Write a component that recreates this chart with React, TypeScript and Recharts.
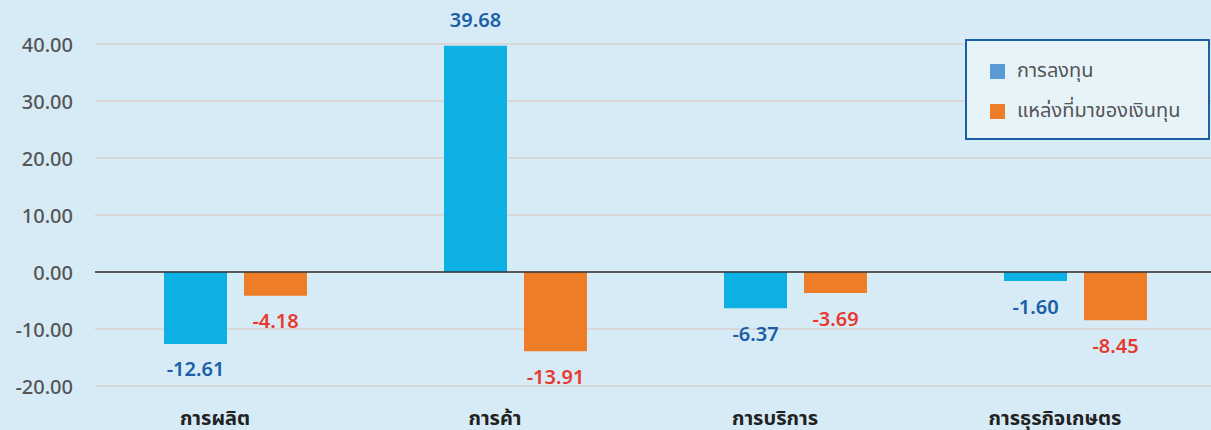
import React from "react";
import {
  BarChart,
  Bar,
  XAxis,
  YAxis,
  CartesianGrid,
  ReferenceLine,
  LabelList,
} from "recharts";

const categories = ["การผลิต", "การค้า", "การบริการ", "การธุรกิจเกษตร"];
const investment = [-12.61, 39.68, -6.37, -1.6];
const fundingSource = [-4.18, -13.91, -3.69, -8.45];
const seriesNames = ["การลงทุน", "แหล่งที่มาของเงินทุน"];
const yTicks = [-20, -10, 0, 10, 20, 30, 40];

const data = categories.map((c, i) => ({
  name: c,
  inv: investment[i],
  src: fundingSource[i],
}));

const FONT = "'Noto Sans', 'Noto Sans Thai', sans-serif";

const makeLabel = (color: string) => (props: any) => {
  const { x, y, width, height, value } = props;
  const y1 = Number(y);
  const y2 = Number(y) + Number(height);
  const top = Math.min(y1, y2);
  const bottom = Math.max(y1, y2);
  const cx = Number(x) + Number(width) / 2;
  const ty = value >= 0 ? top - 26 : bottom + 25;
  return (
    <text
      x={cx}
      y={ty}
      textAnchor="middle"
      dominantBaseline="central"
      fill={color}
      fontSize={20}
      fontWeight={600}
      fontFamily={FONT}
    >
      {Number(value).toFixed(2)}
    </text>
  );
};

const XTick = (props: any) => {
  const { x, y, payload } = props;
  return (
    <text
      x={x - 20}
      y={y + 23}
      textAnchor="middle"
      dominantBaseline="central"
      fill="#222"
      fontSize={20}
      fontWeight={700}
      fontFamily={FONT}
    >
      {payload.value}
    </text>
  );
};

const YTick = (props: any) => {
  const { y, payload } = props;
  return (
    <text
      x={73}
      y={y}
      textAnchor="end"
      dominantBaseline="central"
      fill="#555"
      fontSize={20}
      fontWeight={500}
      fontFamily={FONT}
    >
      {Number(payload.value).toFixed(2)}
    </text>
  );
};

const legendColors = ["#5b9bd5", "#ee7d27"];

const LegendBox = () => (
  <div
    style={{
      position: "absolute",
      left: 965,
      top: 39,
      width: 245,
      height: 101,
      boxSizing: "border-box",
      border: "2px solid #1a5ea8",
      background: "#e6f3f9",
      paddingLeft: 23,
      paddingTop: 10,
      fontFamily: FONT,
    }}
  >
    {seriesNames.map((n, i) => (
      <div
        key={n}
        style={{
          display: "flex",
          alignItems: "center",
          height: 40,
        }}
      >
        <div
          style={{
            width: 15,
            height: 15,
            background: legendColors[i],
            marginRight: 12,
          }}
        />
        <span style={{ fontSize: 20, color: "#555" }}>{n}</span>
      </div>
    ))}
  </div>
);

export default function App() {
  return (
    <div
      style={{
        position: "absolute",
        left: 0,
        top: 0,
        width: 1211,
        height: 430,
        overflow: "hidden",
        background: "#d6ebf6",
      }}
    >
      <BarChart
        width={1216}
        height={430}
        data={data}
        margin={{ top: 44, right: 1, left: 0, bottom: 0 }}
        barGap={17}
        barSize={63}
      >
        <CartesianGrid vertical={false} stroke="#d8d8d8" strokeWidth={2} />
        <XAxis
          dataKey="name"
          axisLine={false}
          tickLine={false}
          height={44}
          tick={<XTick />}
          interval={0}
        />
        <YAxis
          width={95}
          domain={[-20, 40]}
          ticks={yTicks}
          axisLine={false}
          tickLine={false}
          tick={<YTick />}
          interval={0}
        />
        <ReferenceLine y={0} stroke="#333" strokeWidth={1.5} />
        <Bar dataKey="inv" name={seriesNames[0]} fill="#0cb0e2" isAnimationActive={false}>
          <LabelList dataKey="inv" content={makeLabel("#1a5ea8")} />
        </Bar>
        <Bar dataKey="src" name={seriesNames[1]} fill="#ee7d27" isAnimationActive={false}>
          <LabelList dataKey="src" content={makeLabel("#e8392f")} />
        </Bar>
      </BarChart>
      <LegendBox />
    </div>
  );
}
